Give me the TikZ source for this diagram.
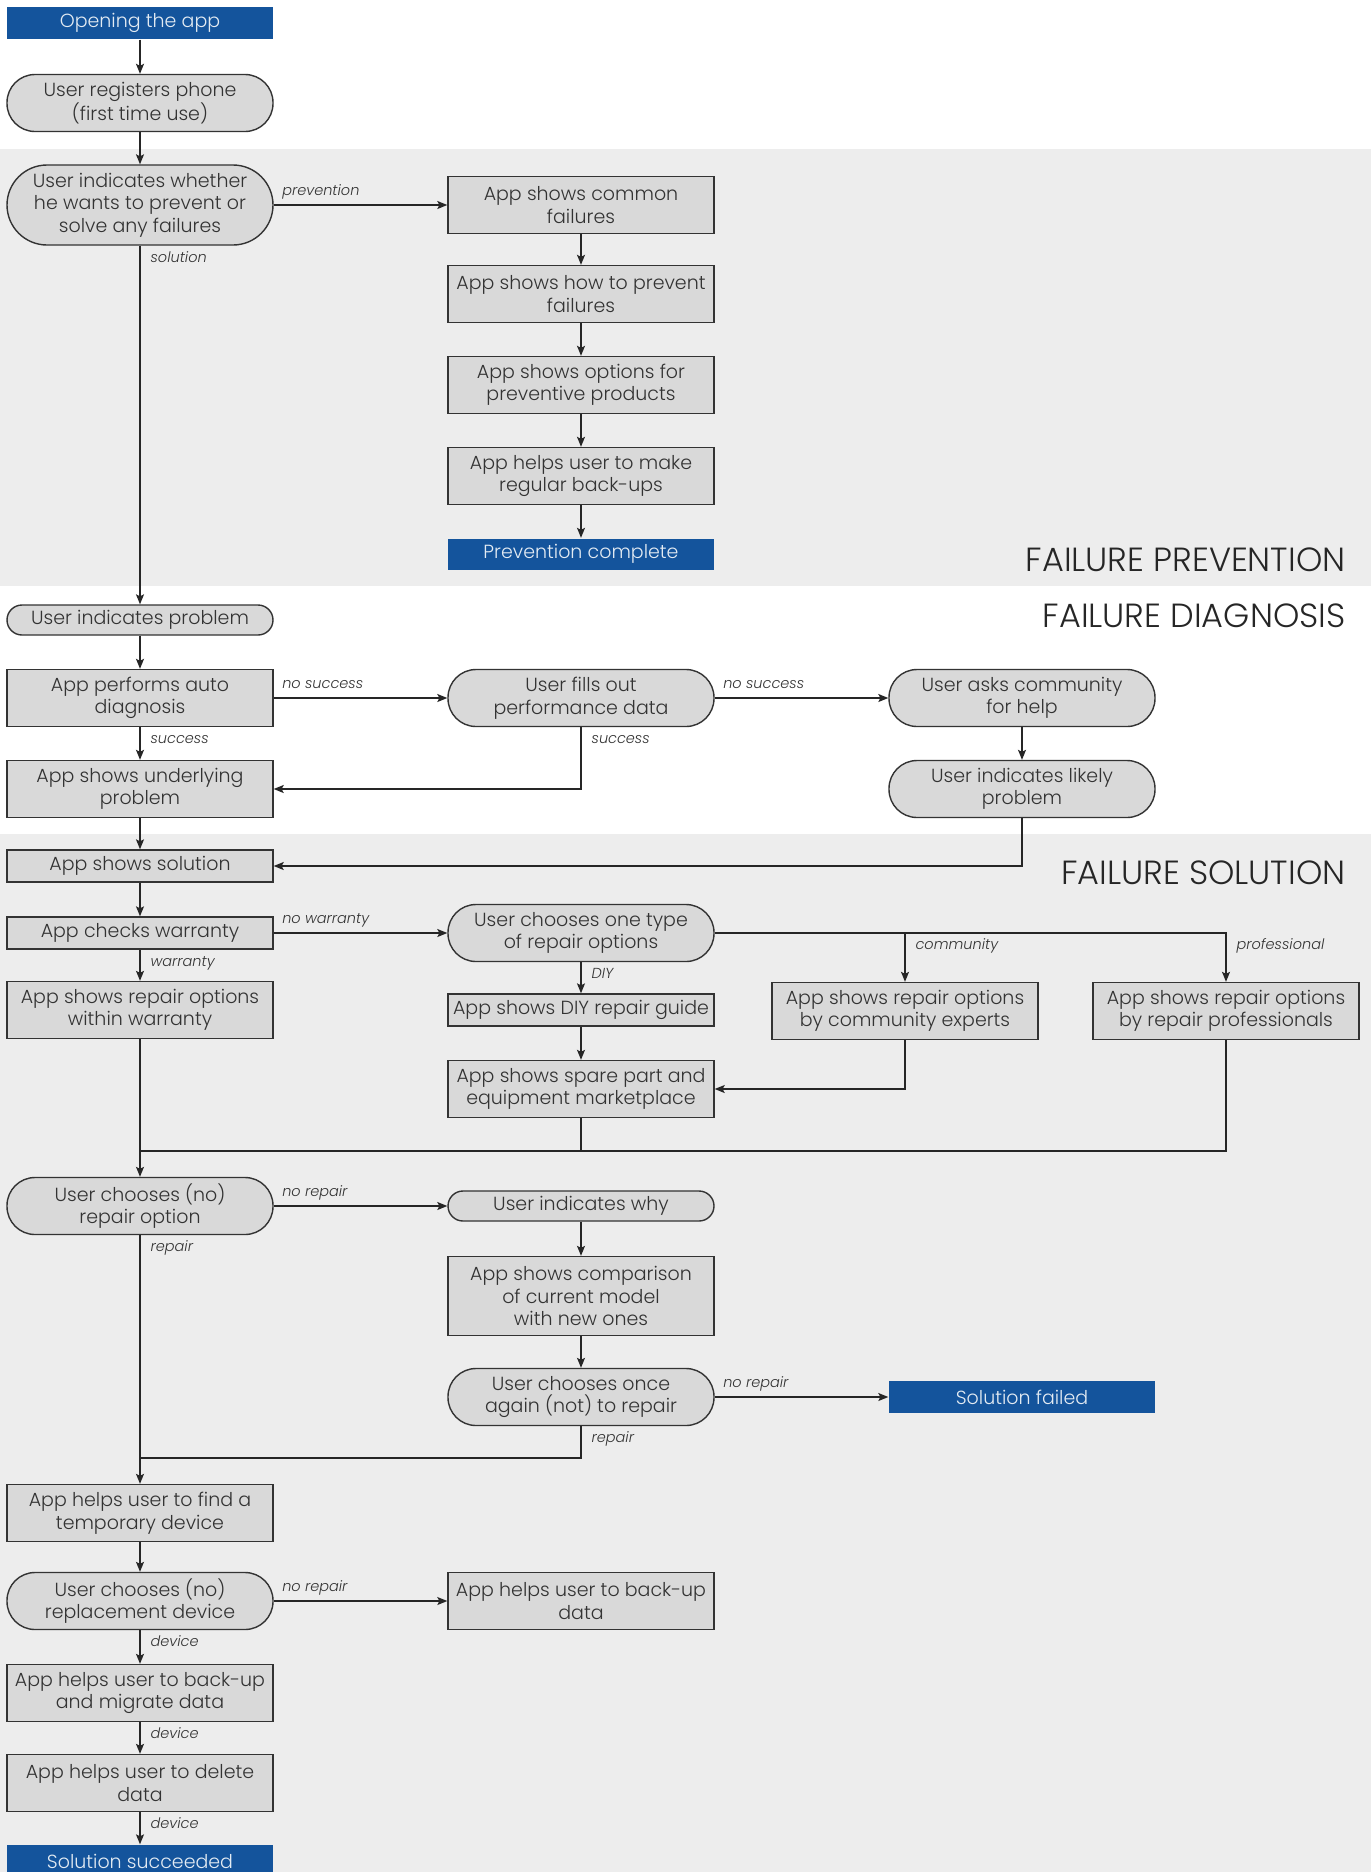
\documentclass[tikz,border=0pt]{standalone}
\usepackage{fontspec}
\IfFontExistsTF{Poppins Light Italic}{\setmainfont{Poppins}[UprightFont=* Light,ItalicFont=* Light Italic]}{\setmainfont{Poppins}}
\usetikzlibrary{arrows.meta}
\definecolor{boxgray}{HTML}{D9D9D9}
\definecolor{bandgray}{HTML}{EDEDED}
\definecolor{appblue}{HTML}{14549C}
\definecolor{edgegray}{HTML}{333333}
\definecolor{textgray}{HTML}{333333}

\begin{document}
\begin{tikzpicture}[x=1pt,y=-1pt,>={Stealth[length=10pt,width=8pt,inset=2pt]},line width=1.2pt,draw=black!85,
  base/.style={draw=edgegray,fill=boxgray,text=textgray,minimum width=266pt,align=center,inner sep=2pt,font=\fontsize{19}{22.5}\selectfont,line width=1.4pt},
  appbox/.style={base,minimum height=57pt},
  appone/.style={base,minimum height=32pt},
  userbox/.style={base,minimum height=57pt,rounded corners=28pt},
  userone/.style={base,minimum height=30pt,rounded corners=15pt},
  endbox/.style={base,draw=none,fill=appblue,text=white!88!appblue,minimum height=32pt},
  lab/.style={font=\fontsize{14.5}{16}\selectfont\itshape,text=textgray,inner sep=0pt},
  hlab/.style={lab,pos=0,anchor=mid west,xshift=8pt,yshift=12pt},
  vlab/.style={lab,pos=0,anchor=mid west,xshift=10pt,yshift=-14pt},
  title/.style={font=\fontsize{33.5}{37}\selectfont,text=black!85,anchor=east,inner sep=0pt}]
\fill[white] (0,0) rectangle (1371,1872);
\fill[bandgray] (0,149) rectangle (1371,586);
\fill[bandgray] (0,834) rectangle (1371,1872);
\useasboundingbox (0,0) rectangle (1371,1872);

\node[endbox] (open) at (140,23) {Opening the app};
\node[userbox] (reg) at (140,103) {User registers phone\\(first time use)};
\node[userbox,minimum height=80pt,rounded corners=40pt] (whe) at (140,205) {User indicates whether\\he wants to prevent or\\solve any failures};
\node[appbox] (common) at (581,205) {App shows common\\failures};
\node[appbox] (howto) at (581,294) {App shows how to prevent\\failures};
\node[appbox] (opts) at (581,385) {App shows options for\\preventive products};
\node[appbox] (backup) at (581,476) {App helps user to make\\regular back-ups};
\node[endbox,minimum height=31pt] (prevdone) at (581,554) {Prevention complete};
\node[title] at (1346,560) {FAILURE PREVENTION};
\node[title] at (1346,616) {FAILURE DIAGNOSIS};
\node[userone] (problem) at (140,620) {User indicates problem};
\node[appbox] (auto) at (140,698) {App performs auto\\diagnosis};
\node[userbox] (fills) at (581,698) {User fills out\\performance data};
\node[userbox] (asks) at (1022,698) {User asks community\\for help};
\node[appbox] (under) at (140,789) {App shows underlying\\problem};
\node[userbox] (likely) at (1022,789) {User indicates likely\\problem};
\node[title] at (1346,873) {FAILURE SOLUTION};
\node[appone] (sol) at (140,866) {App shows solution};
\node[appone] (warr) at (140,933) {App checks warranty};
\node[userbox] (type) at (581,933) {User chooses one type\\of repair options};
\node[appbox] (within) at (140,1010) {App shows repair options\\within warranty};
\node[appone] (diy) at (581,1010) {App shows DIY repair guide};
\node[appbox] (comm) at (905,1011) {App shows repair options\\by community experts};
\node[appbox] (pro) at (1226,1011) {App shows repair options\\by repair professionals};
\node[appbox] (spare) at (581,1089) {App shows spare part and\\equipment marketplace};
\coordinate (join1) at (140,1151);
\node[userbox] (choose) at (140,1206) {User chooses (no)\\repair option};
\node[userone] (why) at (581,1206) {User indicates why};
\node[appbox,minimum height=79pt] (compare) at (581,1296) {App shows comparison\\of current model\\with new ones};
\node[userbox] (again) at (581,1397) {User chooses once\\again (not) to repair};
\node[endbox] (failed) at (1022,1397) {Solution failed};
\coordinate (join2) at (140,1458);
\node[appbox] (temp) at (140,1513) {App helps user to find a\\temporary device};
\node[userbox] (repl) at (140,1601) {User chooses (no)\\replacement device};
\node[appbox] (bdata) at (581,1601) {App helps user to back-up\\data};
\node[appbox] (migrate) at (140,1693) {App helps user to back-up\\and migrate data};
\node[appbox] (delete) at (140,1783) {App helps user to delete\\data};
\node[endbox] (done) at (140,1861) {Solution succeeded};

\draw[->] (open) -- (reg);
\draw[->] (reg) -- (whe);
\draw[->] (whe) -- node[hlab]{prevention} (common);
\draw[->] (common) -- (howto);
\draw[->] (howto) -- (opts);
\draw[->] (opts) -- (backup);
\draw[->] (backup) -- (prevdone);
\draw[->] (whe) -- node[vlab]{solution} (problem);
\draw[->] (problem) -- (auto);
\draw[->] (auto) -- node[hlab]{no success} (fills);
\draw[->] (fills) -- node[hlab]{no success} (asks);
\draw[->] (auto) -- node[vlab]{success} (under);
\draw[->] (fills) |- node[vlab]{success} (under);
\draw[->] (asks) -- (likely);
\draw[->] (likely) |- (sol);
\draw[->] (under) -- (sol);
\draw[->] (sol) -- (warr);
\draw[->] (warr) -- node[hlab]{no warranty} (type);
\draw[->] (warr) -- node[vlab]{warranty} (within);
\draw[->] (type) -- node[vlab]{DIY} (diy);
\draw[->] (type) -| node[vlab,pos=0.5]{professional} (pro);
\draw[->] (type.east -| comm.north) -- node[vlab]{community} (comm);
\draw[->] (diy) -- (spare);
\draw[->] (comm) |- (spare);
\draw (spare) |- (join1);
\draw (pro) |- (join1);
\draw[->] (within) -- (choose);
\draw[->] (choose) -- node[hlab]{no repair} (why);
\draw[->] (choose) -- node[vlab]{repair} (temp);
\draw[->] (why) -- (compare);
\draw[->] (compare) -- (again);
\draw[->] (again) -- node[hlab]{no repair} (failed);
\draw (again) |- node[vlab]{repair} (join2);
\draw[->] (temp) -- (repl);
\draw[->] (repl) -- node[hlab]{no repair} (bdata);
\draw[->] (repl) -- node[vlab]{device} (migrate);
\draw[->] (migrate) -- node[vlab]{device} (delete);
\draw[->] (delete) -- node[vlab]{device} (done);
\end{tikzpicture}
\end{document}
